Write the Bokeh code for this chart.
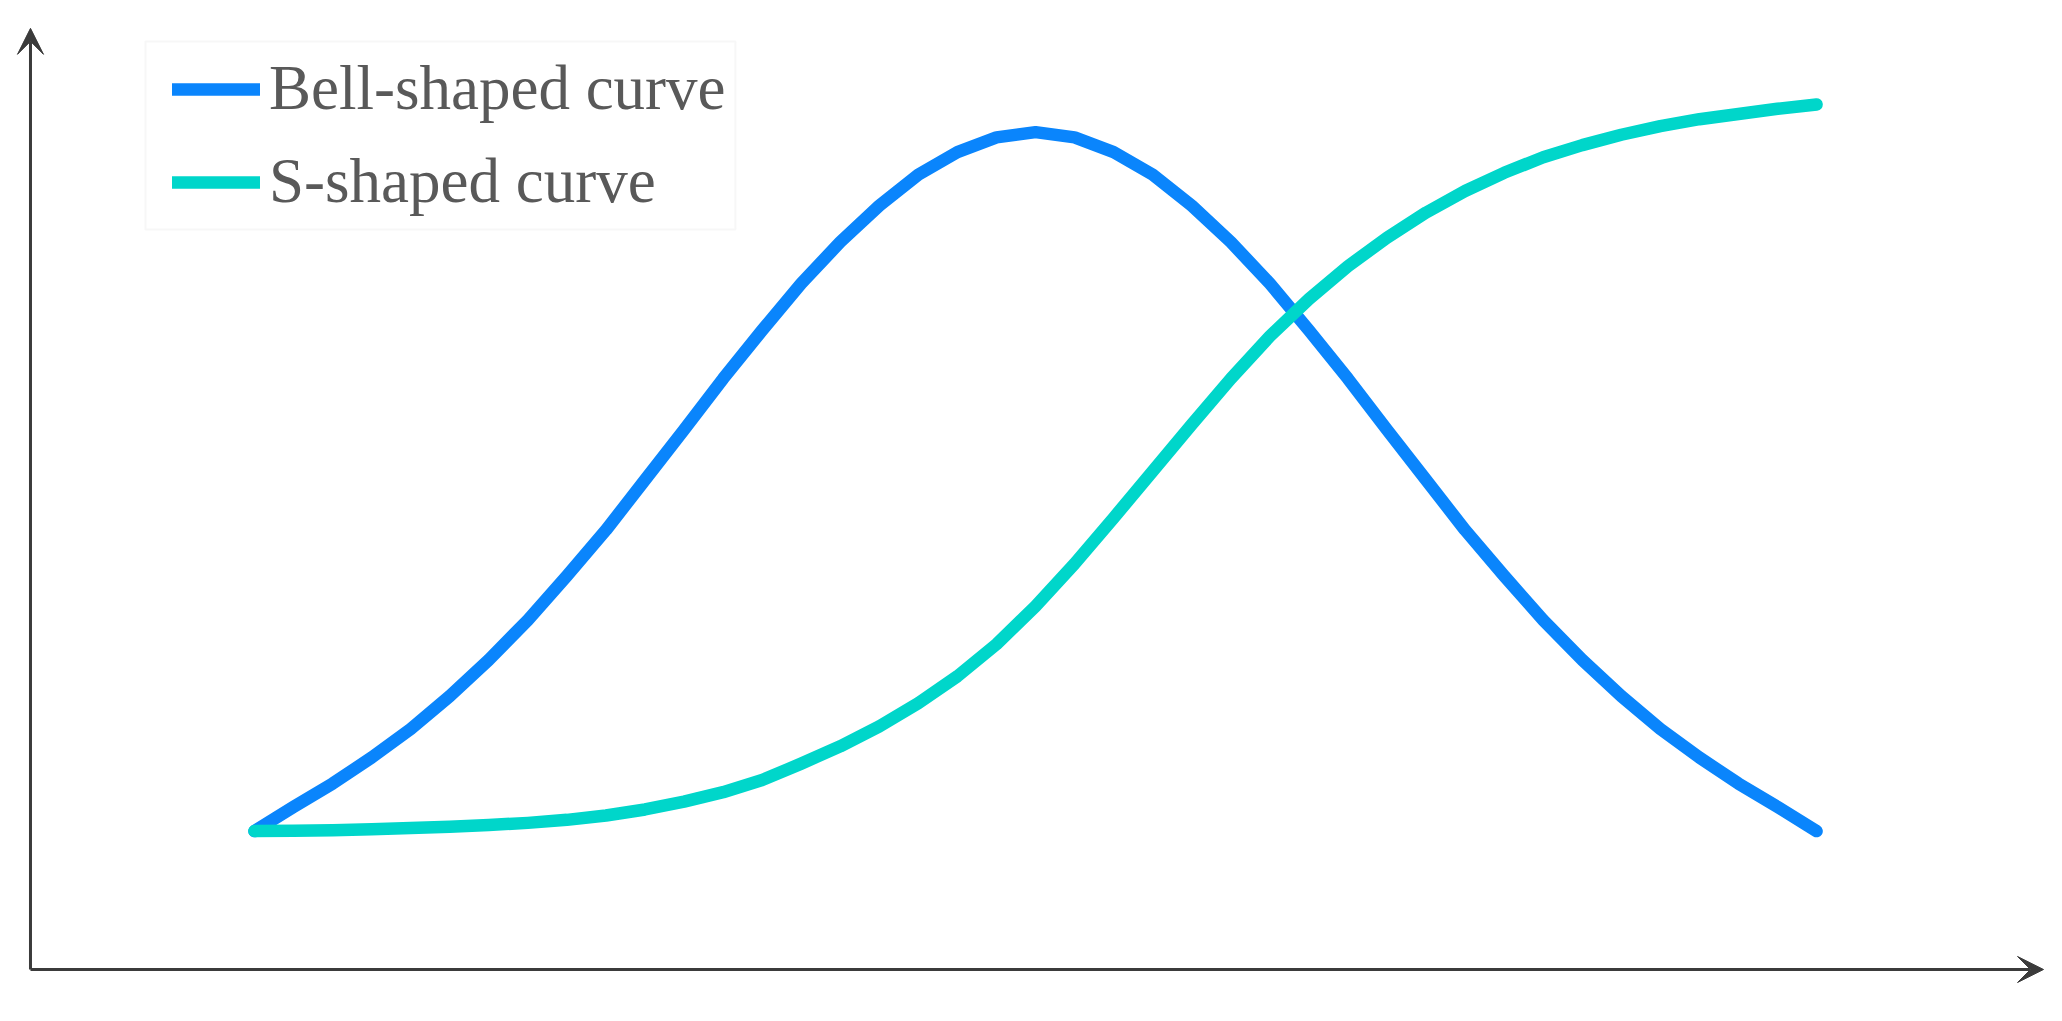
from bokeh.plotting import figure
from bokeh.models import Range1d, Arrow, VeeHead, Legend, LegendItem, ColumnDataSource, BoxAnnotation
from bokeh.embed import file_html
from bokeh.resources import INLINE

# ---- data ----
x_vals = [0.0, 0.25, 0.5, 0.75, 1.0, 1.25, 1.5, 1.75, 2.0, 2.25, 2.5, 2.75, 3.0,
          3.25, 3.5, 3.75, 4.0, 4.25, 4.5, 4.75, 5.0, 5.25, 5.5, 5.75, 6.0, 6.25,
          6.5, 6.75, 7.0, 7.25, 7.5, 7.75, 8.0, 8.25, 8.5, 8.75, 9.0, 9.25, 9.5,
          9.75, 10.0]
bell_y = [16.0, 18.8, 21.5, 24.5, 27.8, 31.6, 35.8, 40.4, 45.5, 50.8, 56.6, 62.4, 68.3,
          73.9, 79.3, 84.1, 88.3, 91.9, 94.5, 96.2, 96.8, 96.2, 94.5, 91.9, 88.3, 84.1,
          79.3, 73.9, 68.3, 62.4, 56.6, 50.8, 45.5, 40.4, 35.8, 31.6, 27.8, 24.5, 21.5,
          18.8, 16.0]
s_y = [16.0, 16.05, 16.1, 16.2, 16.35, 16.5, 16.7, 16.95, 17.3, 17.8, 18.5, 19.4, 20.5,
       21.9, 23.8, 25.8, 28.1, 30.8, 33.9, 37.6, 42.0, 46.9, 52.2, 57.6, 63.0, 68.3,
       73.2, 77.5, 81.3, 84.6, 87.5, 90.0, 92.1, 93.9, 95.3, 96.5, 97.5, 98.3, 98.9,
       99.5, 100.0]
series_names = ["Bell-shaped curve", "S-shaped curve"]
series_colors = ["#0a85fc", "#00d6ca"]

# ---- layout ----
W, H = 2046, 1005
p = figure(width=W, height=H, output_backend="svg", toolbar_location=None,
           x_range=Range1d(-1.626, 11.472), y_range=Range1d(-4.162, 112.02),
           min_border=0, min_border_left=0, min_border_right=0,
           min_border_top=0, min_border_bottom=0)
p.axis.visible = False
p.grid.visible = False
p.outline_line_color = None
p.background_fill_color = "white"
p.border_fill_color = "white"

axis_x0 = -1.434
axis_x1 = 11.453
axis_y1 = 108.8
axis_color = "#3b3b3b"

p.add_layout(Arrow(end=VeeHead(size=26, fill_color=axis_color, line_color=axis_color, line_width=1),
                   x_start=axis_x0, y_start=0, x_end=axis_x1, y_end=0,
                   line_color=axis_color, line_width=3))
p.add_layout(Arrow(end=VeeHead(size=26, fill_color=axis_color, line_color=axis_color, line_width=1),
                   x_start=axis_x0, y_start=0, x_end=axis_x0, y_end=axis_y1,
                   line_color=axis_color, line_width=3))

src = ColumnDataSource(dict(x=x_vals, bell=bell_y, s=s_y))
r1 = p.line("x", "bell", source=src, line_color=series_colors[0], line_width=12.5,
            line_cap="round", line_join="round")
r2 = p.line("x", "s", source=src, line_color=series_colors[1], line_width=12.5,
            line_cap="round", line_join="round")

# legend frame
p.add_layout(BoxAnnotation(left=-0.698, right=3.079, top=107.28, bottom=85.55,
                           fill_color="white", fill_alpha=1.0,
                           line_color="#e4e4e4", line_width=2, level="annotation"))

legend = Legend(items=[LegendItem(label=series_names[0], renderers=[r1]),
                       LegendItem(label=series_names[1], renderers=[r2])],
                location=(172, 787), orientation="vertical",
                label_text_font="Liberation Serif", label_text_font_size="63px",
                label_text_color="#595959",
                glyph_width=88, glyph_height=40, label_standoff=9,
                padding=10, spacing=20, margin=0,
                border_line_color=None, background_fill_alpha=0.0)
p.add_layout(legend)

open("out.html", "w").write(file_html(p, INLINE))
